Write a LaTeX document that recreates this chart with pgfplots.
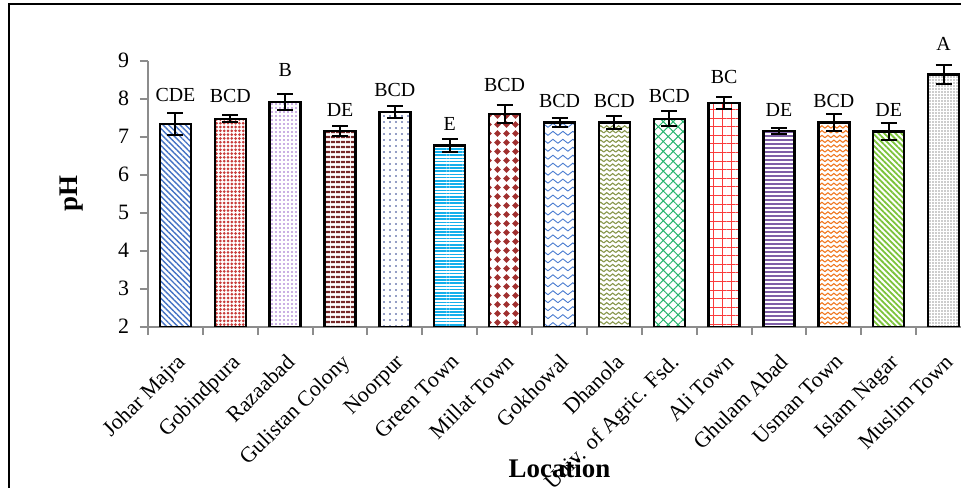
\documentclass[border=0pt]{standalone}
\usepackage{fontspec}
\setmainfont{Liberation Serif}
\usepackage{pgfplots}
\usepackage{pgfplotstable}
\pgfplotsset{compat=1.18}
\usetikzlibrary{patterns,patterns.meta,calc}

\definecolor{axgray}{RGB}{140,140,140}
\definecolor{c1}{RGB}{68,114,196}
\definecolor{c2}{RGB}{200,60,58}
\definecolor{c3}{RGB}{150,95,200}
\definecolor{c4}{RGB}{118,40,40}
\definecolor{c5}{RGB}{40,60,140}
\definecolor{c6}{RGB}{20,175,235}
\definecolor{c7}{RGB}{160,48,47}
\definecolor{c8}{RGB}{74,124,208}
\definecolor{c9}{RGB}{135,150,75}
\definecolor{c10}{RGB}{40,180,110}
\definecolor{c11}{RGB}{250,60,60}
\definecolor{c12}{RGB}{127,95,168}
\definecolor{c13}{RGB}{240,120,32}
\definecolor{c14}{RGB}{124,195,58}
\definecolor{c15}{RGB}{40,40,40}

\pgfdeclarepatternformonly{smallwaves}{\pgfqpoint{-0.5pt}{-0.5pt}}{\pgfqpoint{3.5pt}{3pt}}{\pgfqpoint{3pt}{2.4pt}}{%
  \pgfsetlinewidth{0.55pt}%
  \pgfpathmoveto{\pgfqpoint{0pt}{0.6pt}}%
  \pgfpathlineto{\pgfqpoint{1.5pt}{1.8pt}}%
  \pgfpathlineto{\pgfqpoint{3pt}{0.6pt}}%
  \pgfusepath{stroke}}
\pgfdeclarepatternformonly{bigwaves}{\pgfqpoint{-0.5pt}{-0.5pt}}{\pgfqpoint{5.5pt}{4.5pt}}{\pgfqpoint{5pt}{4pt}}{%
  \pgfsetlinewidth{0.45pt}%
  \pgfpathmoveto{\pgfqpoint{0pt}{1pt}}%
  \pgfpathlineto{\pgfqpoint{2.5pt}{3pt}}%
  \pgfpathlineto{\pgfqpoint{5pt}{1pt}}%
  \pgfusepath{stroke}}
\pgfdeclarepatternformonly{diamonds}{\pgfqpoint{0pt}{0pt}}{\pgfqpoint{4.5pt}{4.5pt}}{\pgfqpoint{4.5pt}{4.5pt}}{%
  \pgfpathmoveto{\pgfqpoint{2.25pt}{0.6pt}}%
  \pgfpathlineto{\pgfqpoint{3.9pt}{2.25pt}}%
  \pgfpathlineto{\pgfqpoint{2.25pt}{3.9pt}}%
  \pgfpathlineto{\pgfqpoint{0.6pt}{2.25pt}}%
  \pgfpathclose
  \pgfusepath{fill}}

\pgfplotstableread{
x ly label
0 7.92 CDE
1 7.88 BCD
2 8.56 B
3 7.53 DE
4 8.04 BCD
5 7.16 E
6 8.17 BCD
7 7.75 BCD
8 7.75 BCD
9 7.88 BCD
10 8.39 BC
11 7.53 DE
12 7.75 BCD
13 7.51 DE
14 9.26 A
}\lettertable

\pgfplotsset{
  mybar/.style={ybar, bar width=15.5bp, bar shift=0pt, draw=black, line width=1.2bp,
    error bars/y dir=both, error bars/y explicit,
    error bars/error bar style={line width=1bp, black},
    error bars/error mark options={rotate=90, mark size=4bp, line width=1bp, black}},
}

\begin{document}
\begin{tikzpicture}
\begin{axis}[
  scale only axis, width=411.5bp, height=133bp,
  xmin=-0.5, xmax=14.5, ymin=2, ymax=9,
  axis x line*=bottom, axis y line*=left,
  axis line style={draw=axgray, line width=1.1bp, -},
  tick align=outside,
  major tick length=0pt, minor tick length=4bp,
  tick style={draw=axgray, line width=1bp},
  ytick={2,...,9}, minor ytick={2,...,9},
  xtick={0,...,14}, minor xtick={-0.5,0.5,...,14.5},
  xticklabels={Johar Majra, Gobindpura, Razaabad, Gulistan Colony, Noorpur, Green Town, Millat Town, Gokhowal, Dhanola, Univ. of Agric. Fsd., Ali Town, Ghulam Abad, Usman Town, Islam Nagar, Muslim Town},
  /pgf/number format/assume math mode=true,
  yticklabel style={font=\fontsize{11}{13}\selectfont, xshift=-6bp},
  xticklabel style={font=\fontsize{11}{13}\selectfont, rotate=45, anchor=north east, inner sep=1bp, xshift=-8bp, yshift=-8bp},
  ylabel={\textbf{pH}},
  ylabel style={font=\fontsize{13.5}{16}\selectfont, at={(axis description cs:-0.093,0.5)}, anchor=center},
  xlabel={\textbf{Location}},
  xlabel style={font=\fontsize{13.5}{16}\selectfont, at={(axis description cs:0.5,-0.567)}, anchor=base},
]
\coordinate (O) at (rel axis cs:0,0);
\addplot[mybar, pattern={Lines[angle=-45,distance=2bp,line width=0.7bp]}, pattern color=c1] coordinates {(0,7.33) +- (0,0.29)};
\addplot[mybar, pattern={Dots[distance=1.9bp,radius=0.75bp]}, pattern color=c2] coordinates {(1,7.47) +- (0,0.09)};
\addplot[mybar, pattern={Dots[distance=2bp,radius=0.45bp]}, pattern color=c3] coordinates {(2,7.91) +- (0,0.21)};
\addplot[mybar, pattern={Lines[angle=0,distance=2.25bp,line width=1.2bp]}, pattern color=c4] coordinates {(3,7.15) +- (0,0.12)};
\addplot[mybar, pattern={Dots[distance=3bp,radius=0.45bp]}, pattern color=c5] coordinates {(4,7.65) +- (0,0.15)};
\addplot[mybar, pattern={Lines[angle=0,distance=1.6bp,line width=0.8bp]}, pattern color=c6] coordinates {(5,6.77) +- (0,0.18)};
\addplot[mybar, pattern=diamonds, pattern color=c7] coordinates {(6,7.60) +- (0,0.23)};
\addplot[mybar, pattern=bigwaves, pattern color=c8] coordinates {(7,7.37) +- (0,0.11)};
\addplot[mybar, pattern=smallwaves, pattern color=c9] coordinates {(8,7.37) +- (0,0.17)};
\addplot[mybar, pattern={Hatch[angle=45,distance=3.5bp,line width=0.5bp]}, pattern color=c10] coordinates {(9,7.47) +- (0,0.20)};
\addplot[mybar, pattern={Hatch[angle=0,distance=4.3bp,line width=0.5bp]}, pattern color=c11] coordinates {(10,7.88) +- (0,0.16)};
\addplot[mybar, pattern={Lines[angle=0,distance=2bp,line width=0.6bp]}, pattern color=c12] coordinates {(11,7.15) +- (0,0.07)};
\addplot[mybar, pattern=smallwaves, pattern color=c13] coordinates {(12,7.37) +- (0,0.23)};
\addplot[mybar, pattern={Lines[angle=-45,distance=2bp,line width=0.9bp]}, pattern color=c14] coordinates {(13,7.14) +- (0,0.22)};
\addplot[mybar, pattern={Dots[distance=1.5bp,radius=0.35bp]}, pattern color=c15] coordinates {(14,8.64) +- (0,0.24)};
\end{axis}
\begin{axis}[
  scale only axis, width=411.5bp, height=133bp,
  xmin=-0.5, xmax=14.5, ymin=2, ymax=9,
  hide axis, clip=false,
]
\addplot[draw=none, mark=none, nodes near coords, point meta=explicit symbolic,
  every node near coord/.append style={anchor=south, inner sep=0pt, font=\fontsize{10}{12}\selectfont, black}]
  table[x=x, y=ly, meta=label] {\lettertable};
\end{axis}
\pgfresetboundingbox
\path[use as bounding box] ($(O)+(-74bp,-80.65bp)$) rectangle ($(O)+(406.5bp,163.35bp)$);
\draw[line width=1bp, black] ($(O)+(-69.5bp,-95bp)$) -- ($(O)+(-69.5bp,161.1bp)$) -- ($(O)+(420bp,161.1bp)$);
\end{tikzpicture}
\end{document}
